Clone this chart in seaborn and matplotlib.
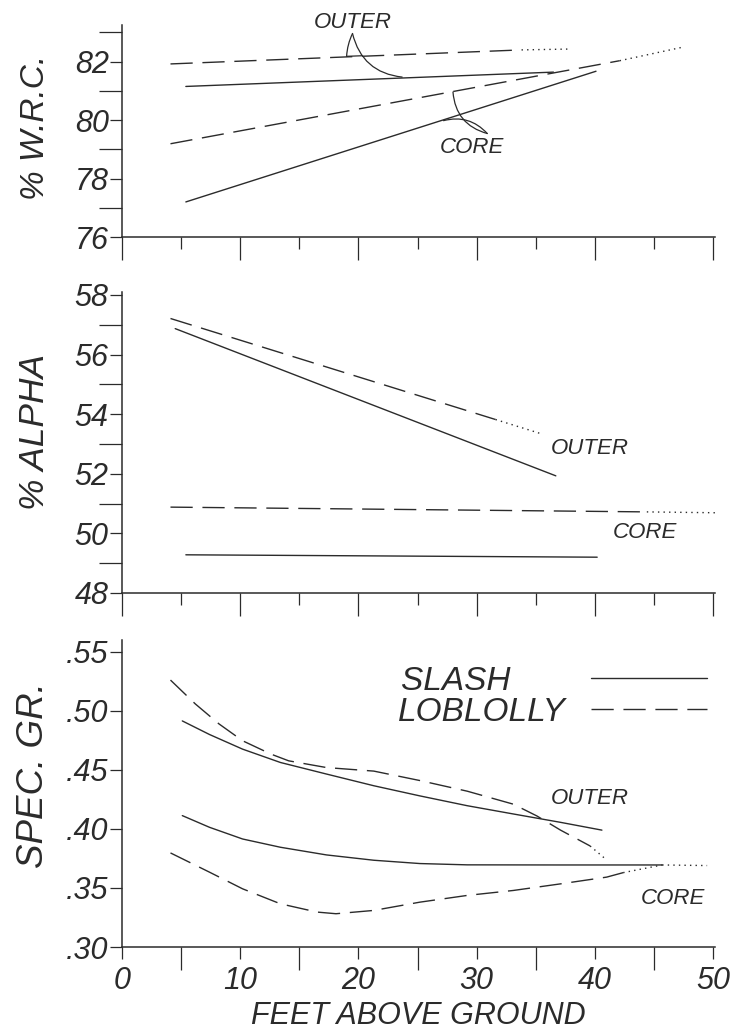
import matplotlib
matplotlib.use("Agg")
import matplotlib.pyplot as plt
from matplotlib.ticker import FixedLocator, FuncFormatter
from matplotlib.lines import Line2D
import seaborn as sns

# --- 0. Datos (x = pies sobre el suelo) ---

# Panel superior: % W.R.C.
wrc_outer_slash_x = [5.4, 36.5]
wrc_outer_slash_y = [81.15, 81.64]
wrc_outer_lob_x = [4.1, 33.8]
wrc_outer_lob_y = [81.92, 82.40]
wrc_outer_lob_ext_x = [33.8, 38.0]
wrc_outer_lob_ext_y = [82.40, 82.43]
wrc_core_slash_x = [5.4, 40.1]
wrc_core_slash_y = [77.20, 81.67]
wrc_core_lob_x = [4.1, 42.1]
wrc_core_lob_y = [79.19, 82.03]
wrc_core_lob_ext_x = [42.1, 47.4]
wrc_core_lob_ext_y = [82.03, 82.49]

# Panel medio: % ALPHA
alpha_outer_slash_x = [4.5, 36.7]
alpha_outer_slash_y = [56.87, 51.93]
alpha_outer_lob_x = [4.1, 31.6]
alpha_outer_lob_y = [57.21, 53.82]
alpha_outer_lob_ext_x = [31.6, 35.4]
alpha_outer_lob_ext_y = [53.82, 53.35]
alpha_core_slash_x = [5.4, 40.2]
alpha_core_slash_y = [49.28, 49.20]
alpha_core_lob_x = [4.1, 44.4]
alpha_core_lob_y = [50.88, 50.72]
alpha_core_lob_ext_x = [44.4, 50.4]
alpha_core_lob_ext_y = [50.72, 50.69]

# Panel inferior: SPEC. GR.
sg_outer_slash_x = [5.1, 7.4, 10.2, 13.4, 17.3, 21.3, 25.2, 29.2, 33.1, 37.1, 40.6]
sg_outer_slash_y = [.4915, .480, .4676, .4563, .4465, .4366, .428, .4197, .4127, .4056, .399]
sg_outer_lob_x = [4.1, 6.2, 8.2, 10.2, 12.6, 14.1, 17.3, 21.3, 25.2, 29.2, 33.1, 35.1, 37.1, 39.6]
sg_outer_lob_y = [.5261, .5059, .489, .4747, .4634, .4577, .452, .449, .441, .432, .421, .411, .399, .3856]
sg_outer_lob_ext_x = [39.6, 40.9]
sg_outer_lob_ext_y = [.3856, .3746]
sg_core_slash_x = [5.1, 7.4, 10.2, 13.4, 17.3, 21.3, 25.2, 29.2, 37.0, 45.7]
sg_core_slash_y = [.4113, .4014, .3915, .3845, .378, .3735, .3707, .3696, .3695, .3695]
sg_core_slash_ext_x = [45.7, 49.5]
sg_core_slash_ext_y = [.3695, .369]
sg_core_lob_x = [4.1, 7.4, 10.2, 13.4, 16.5, 18.1, 21.3, 25.2, 29.2, 33.1, 37.1, 41.0, 42.4]
sg_core_lob_y = [.3797, .3634, .3493, .3366, .3296, .3282, .331, .338, .3437, .3479, .3535, .3592, .363]
sg_core_lob_ext_x = [42.4, 45.7]
sg_core_lob_ext_y = [.363, .3695]

# Ejes y etiquetas
x_major = [0, 10, 20, 30, 40, 50]
x_minor = [5, 15, 25, 35, 45]
wrc_major = [76, 78, 80, 82]
wrc_minor = [77, 79, 81, 83]
alpha_major = [48, 50, 52, 54, 56, 58]
alpha_minor = [49, 51, 53, 55, 57]
sg_major = [.30, .35, .40, .45, .50, .55]
legend_labels = ["SLASH", "LOBLOLLY"]

INK = "#2b2b2b"
LONG, SHORT = 16.5, 8.6
STYLES = {"slash": "-", "lob": (0, (16, 7)), "dot": (0, (1, 3))}

sns.set_theme(style="ticks")
plt.rcParams["font.family"] = ["Liberation Sans", "DejaVu Sans"]
plt.rcParams["font.style"] = "italic"
plt.rcParams["text.color"] = INK
plt.rcParams["axes.labelcolor"] = INK
plt.rcParams["xtick.color"] = INK
plt.rcParams["ytick.color"] = INK


def trazo(ax, x, y, kind):
    sns.lineplot(x=x, y=y, ax=ax, color=INK, lw=1.0, linestyle=STYLES[kind],
                 estimator=None, sort=False, clip_on=False)


def ejes(ax, ylim, ymajor, yminor, ylabel, ylab_y, ylab_size, fmt, bottom_panel=False):
    ax.set_xlim(0, 50.2)
    ax.set_ylim(*ylim)
    for s in ["top", "right"]:
        ax.spines[s].set_visible(False)
    for s in ["left", "bottom"]:
        ax.spines[s].set_color(INK)
        ax.spines[s].set_linewidth(1.1)
    ax.xaxis.set_major_locator(FixedLocator(x_major))
    ax.xaxis.set_minor_locator(FixedLocator(x_minor))
    ax.yaxis.set_major_locator(FixedLocator(ymajor))
    ax.yaxis.set_minor_locator(FixedLocator(yminor))
    ax.yaxis.set_major_formatter(FuncFormatter(fmt))
    ax.tick_params(which="both", bottom=True, left=True, top=False, right=False,
                   direction="out", color=INK)
    if bottom_panel:
        ax.tick_params(axis="x", which="major", length=SHORT, width=0.9, labelsize=22, pad=5)
        ax.tick_params(axis="x", which="minor", length=LONG, width=0.9)
    else:
        ax.tick_params(axis="x", which="major", length=LONG, width=0.9, labelbottom=False)
        ax.tick_params(axis="x", which="minor", length=SHORT, width=0.9)
    ax.tick_params(axis="y", which="major", length=SHORT, width=0.9, labelsize=22, pad=1)
    ax.tick_params(axis="y", which="minor", length=LONG, width=0.9)
    ax.set_ylabel(ylabel, fontsize=ylab_size)
    ax.yaxis.set_label_coords(-0.12, ylab_y)


# --- 1. Figura ---
fig = plt.figure(figsize=(7.32, 10.35), dpi=100)
ax1 = fig.add_axes([0.1667, 0.771, 0.8106, 0.2048])
ax2 = fig.add_axes([0.1667, 0.4271, 0.8106, 0.2908])
ax3 = fig.add_axes([0.1667, 0.085, 0.8106, 0.2966])

# Panel superior
trazo(ax1, wrc_outer_slash_x, wrc_outer_slash_y, "slash")
trazo(ax1, wrc_outer_lob_x, wrc_outer_lob_y, "lob")
trazo(ax1, wrc_outer_lob_ext_x, wrc_outer_lob_ext_y, "dot")
trazo(ax1, wrc_core_slash_x, wrc_core_slash_y, "slash")
trazo(ax1, wrc_core_lob_x, wrc_core_lob_y, "lob")
trazo(ax1, wrc_core_lob_ext_x, wrc_core_lob_ext_y, "dot")
ejes(ax1, (76, 83.25), wrc_major, wrc_minor, "% W.R.C.", 0.515, 24, lambda v, p: f"{v:.0f}")

lead = dict(arrowstyle="-", lw=0.9, color=INK, shrinkA=0, shrinkB=0)
ax1.text(19.5, 83.33, "OUTER", fontsize=16, ha="center", va="center", clip_on=False)
ax1.annotate("", xy=(19.0, 82.18), xytext=(19.5, 82.96), arrowprops=dict(lead, connectionstyle="arc3,rad=0.1"))
ax1.annotate("", xy=(20.3, 82.2), xytext=(19.0, 82.18), arrowprops=dict(lead))
ax1.annotate("", xy=(23.7, 81.47), xytext=(19.5, 82.96), arrowprops=dict(lead, connectionstyle="arc3,rad=0.35"))
ax1.text(29.6, 79.06, "CORE", fontsize=16, ha="center", va="center")
ax1.annotate("", xy=(28.0, 80.96), xytext=(30.9, 79.54), arrowprops=dict(lead, connectionstyle="arc3,rad=-0.35"))
ax1.annotate("", xy=(27.2, 79.98), xytext=(30.9, 79.54), arrowprops=dict(lead, connectionstyle="arc3,rad=0.3"))

# Panel medio
trazo(ax2, alpha_outer_slash_x, alpha_outer_slash_y, "slash")
trazo(ax2, alpha_outer_lob_x, alpha_outer_lob_y, "lob")
trazo(ax2, alpha_outer_lob_ext_x, alpha_outer_lob_ext_y, "dot")
trazo(ax2, alpha_core_slash_x, alpha_core_slash_y, "slash")
trazo(ax2, alpha_core_lob_x, alpha_core_lob_y, "lob")
trazo(ax2, alpha_core_lob_ext_x, alpha_core_lob_ext_y, "dot")
ejes(ax2, (48, 58.1), alpha_major, alpha_minor, "% ALPHA", 0.535, 25.5, lambda v, p: f"{v:.0f}")
ax2.text(39.6, 52.84, "OUTER", fontsize=16, ha="center", va="center")
ax2.text(44.2, 50.03, "CORE", fontsize=16, ha="center", va="center")

# Panel inferior
trazo(ax3, sg_outer_slash_x, sg_outer_slash_y, "slash")
trazo(ax3, sg_outer_lob_x, sg_outer_lob_y, "lob")
trazo(ax3, sg_outer_lob_ext_x, sg_outer_lob_ext_y, "dot")
trazo(ax3, sg_core_slash_x, sg_core_slash_y, "slash")
trazo(ax3, sg_core_slash_ext_x, sg_core_slash_ext_y, "dot")
trazo(ax3, sg_core_lob_x, sg_core_lob_y, "lob")
trazo(ax3, sg_core_lob_ext_x, sg_core_lob_ext_y, "dot")
ejes(ax3, (0.30, 0.56), sg_major, [], "SPEC. GR.", 0.56, 26.5,
     lambda v, p: f"{v:.2f}".lstrip("0"), bottom_panel=True)
ax3.xaxis.set_major_formatter(FuncFormatter(lambda v, p: f"{v:.0f}"))
ax3.set_xlabel("FEET ABOVE GROUND", fontsize=22, labelpad=4)
ax3.text(39.6, 0.4254, "OUTER", fontsize=16, ha="center", va="center")
ax3.text(46.6, 0.3407, "CORE", fontsize=16, ha="center", va="center")

handles = [Line2D([], [], color=INK, lw=1.0, linestyle=STYLES["slash"]),
           Line2D([], [], color=INK, lw=1.0, linestyle=STYLES["lob"])]
labels = [legend_labels[0] + " " * 6, legend_labels[1]]
ax3.legend(handles, labels, loc="upper left", bbox_to_anchor=(0.465, 0.915),
           markerfirst=False, frameon=False, fontsize=24, handlelength=3.48,
           handletextpad=0.75, labelspacing=0.0, borderpad=0, borderaxespad=0)

fig.savefig("out.png", dpi=100)
